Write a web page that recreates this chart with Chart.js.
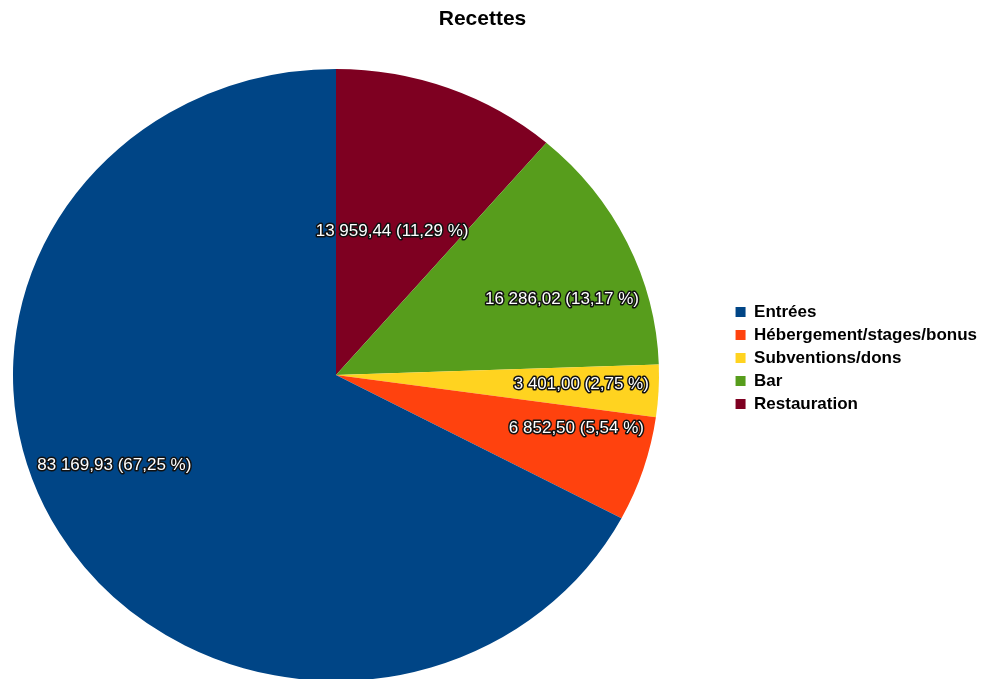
<!DOCTYPE html>
<html lang="fr">
<head>
<meta charset="utf-8">
<title>Recettes</title>
<script src="https://cdn.jsdelivr.net/npm/chart.js@4/dist/chart.umd.min.js"></script>
<style>
  html, body { margin: 0; padding: 0; background: #fff; }
  #wrap { width: 987px; height: 679px; position: relative; }
</style>
</head>
<body>
<div id="wrap"><canvas id="pie"></canvas></div>
<script>
// ===== données =====
const titre = 'Recettes';
const categories = ['Entrées', 'Hébergement/stages/bonus', 'Subventions/dons', 'Bar', 'Restauration'];
const valeurs = [83169.93, 6852.50, 3401.00, 16286.02, 13959.44];
const couleurs = ['#004586', '#ff420e', '#ffd320', '#579d1c', '#7e0021'];

const POLICE = '"Liberation Sans", Arial, sans-serif';
// position / forme du camembert (ellipse légèrement aplatie)
const PIE = { cx: 336, cy: 375, rx: 323, ry: 306 };

// LibreOffice tourne dans le sens anti-horaire : on inverse pour Chart.js
const labelsCJ = categories.slice().reverse();
const valeursCJ = valeurs.slice().reverse();
const couleursCJ = couleurs.slice().reverse();

function fmtNombre(v) {
  const [ent, dec] = v.toFixed(2).split('.');
  return ent.replace(/\B(?=(\d{3})+(?!\d))/g, ' ') + ',' + dec;
}
function fmtPct(v, total) {
  return (v / total * 100).toFixed(2).replace('.', ',') + ' %';
}

// ---- camembert en ellipse ----
const ellipsePlugin = {
  id: 'ellipse',
  beforeDatasetDraw(chart, args) {
    const arc = args.meta.data[0];
    const ctx = chart.ctx;
    ctx.save();
    ctx.translate(PIE.cx, PIE.cy);
    ctx.scale(PIE.rx / arc.outerRadius, PIE.ry / arc.outerRadius);
    ctx.translate(-arc.x, -arc.y);
  },
  afterDatasetDraw(chart) {
    chart.ctx.restore();
  },
};

// ---- étiquettes de valeurs ----
const etiquettesPlugin = {
  id: 'etiquettes',
  afterDatasetsDraw(chart) {
    const ctx = chart.ctx;
    const meta = chart.getDatasetMeta(0);
    const data = chart.data.datasets[0].data;
    const total = data.reduce((a, b) => a + b, 0);
    ctx.save();
    ctx.font = '17px ' + POLICE;
    ctx.textBaseline = 'middle';
    ctx.lineJoin = 'round';
    ctx.lineWidth = 3;
    ctx.strokeStyle = '#111';
    ctx.fillStyle = '#fff';
    meta.data.forEach((arc, i) => {
      const a = (arc.startAngle + arc.endAngle) / 2;
      const cos = Math.cos(a), sin = Math.sin(a);
      let y = PIE.cy + 0.5 * PIE.ry * sin;
      let x = PIE.cx + 0.5 * PIE.rx * cos;
      let align = 'center';
      if (Math.abs(cos) > 0.6) {
        // tranche plutôt horizontale : étiquette poussée vers le bord
        y = PIE.cy + 0.57 * PIE.ry * sin;
        const dy = (y - PIE.cy) / PIE.ry;
        const bord = PIE.rx * Math.sqrt(1 - dy * dy) - 10;
        x = PIE.cx + Math.sign(cos) * bord;
        align = cos > 0 ? 'right' : 'left';
      }
      const txt = fmtNombre(data[i]) + ' (' + fmtPct(data[i], total) + ')';
      ctx.textAlign = align;
      ctx.strokeText(txt, x, y);
      ctx.fillText(txt, x, y);
    });
    ctx.restore();
  },
};

new Chart(document.getElementById('pie'), {
  type: 'pie',
  data: {
    labels: labelsCJ,
    datasets: [{
      data: valeursCJ,
      backgroundColor: couleursCJ,
      borderWidth: 0,
      clip: false,
    }],
  },
  options: {
    responsive: true,
    maintainAspectRatio: false,
    animation: false,
    events: [],
    layout: { padding: { left: -22, right: 0 } },
    plugins: {
      title: {
        display: true,
        text: titre,
        color: '#000',
        font: { family: POLICE, size: 21, weight: 'bold' },
        padding: { top: 7, bottom: 5 },
      },
      legend: {
        position: 'right',
        fullSize: false,
        reverse: true,
        labels: {
          boxWidth: 10,
          boxHeight: 10,
          padding: 6,
          color: '#000',
          font: { family: POLICE, size: 17, weight: 'bold' },
        },
      },
      tooltip: { enabled: false },
    },
  },
  plugins: [ellipsePlugin, etiquettesPlugin],
});
</script>
</body>
</html>
